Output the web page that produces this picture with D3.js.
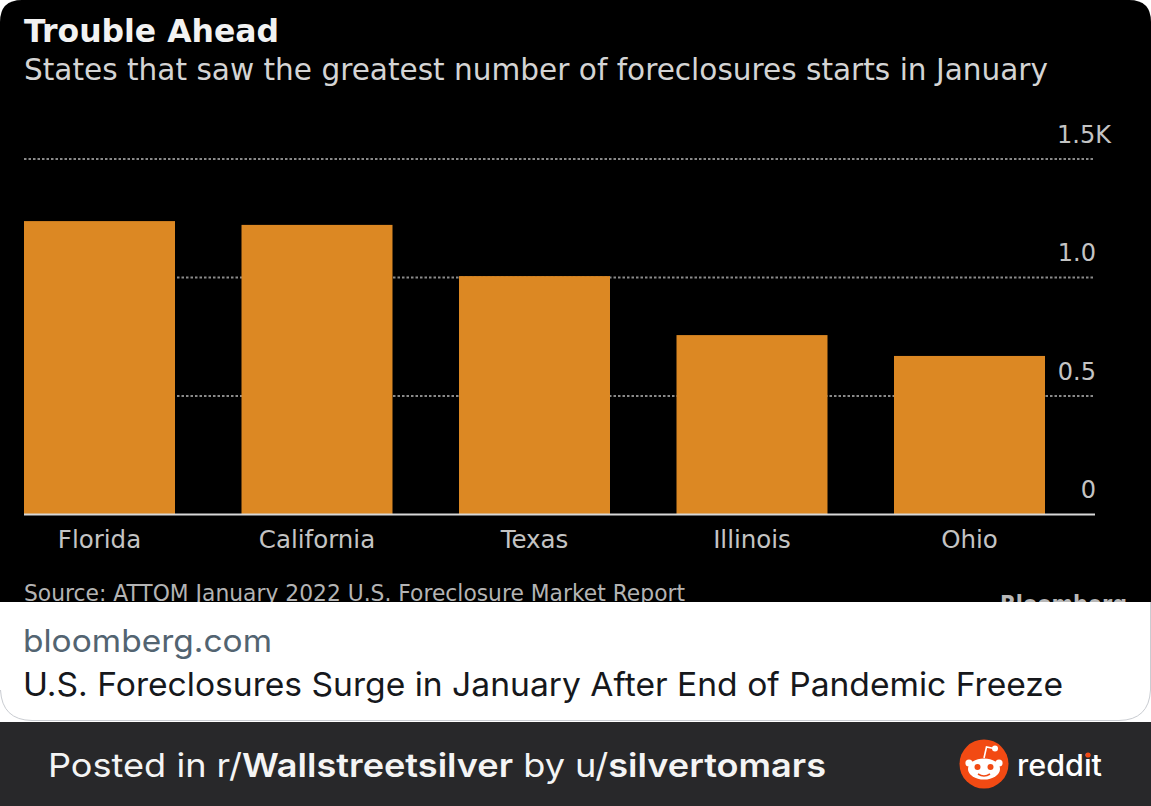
<!DOCTYPE html>
<html><head><meta charset="utf-8">
<script src="https://cdn.jsdelivr.net/npm/d3@7"></script>
<style>html,body{margin:0;padding:0;background:#fff;overflow:hidden}svg{display:block}</style>
</head><body><svg id="c" width="1151" height="806"></svg>
<script>
const states = ["Florida","California","Texas","Illinois","Ohio"];
const foreclosureStarts = [1238,1222,1006,757,669];
const yTicks = [0,500,1000,1500];
const yTickLabels = ["0","0.5","1.0","1.5K"];
const titleText = "Trouble Ahead";
const subtitleText = "States that saw the greatest number of foreclosures starts in January";
const sourceText = "Source: ATTOM January 2022 U.S. Foreclosure Market Report";
const linkDomain = "bloomberg.com";
const linkTitle = "U.S. Foreclosures Surge in January After End of Pandemic Freeze";

const svg = d3.select("#c");
const CH = "'DejaVu Sans', sans-serif";
const UI = "Inter, Roboto, sans-serif";

svg.append("rect").attr("width",1151).attr("height",806).attr("fill","#fff");
const defs = svg.append("defs");
defs.append("clipPath").attr("id","chartClip").append("path")
  .attr("d","M0 602V22Q0 0 22 0H1129Q1151 0 1151 22V602Z");
svg.append("rect").attr("y",0).attr("width",1151).attr("height",602).attr("fill","#000")
  .attr("clip-path","url(#chartClip)");
svg.append("path").attr("d","M0.5 690Q2 720 32 720.5H1119Q1149 720 1150.5 690V602")
  .attr("fill","none").attr("stroke","#c9ccd1").attr("stroke-width",1);
svg.append("rect").attr("y",722).attr("width",1151).attr("height",84).attr("fill","#28282a");

const plot = svg.append("g").attr("clip-path","url(#chartClip)");
const x = d3.scaleBand().domain(states).range([24,1045]).paddingInner(66.5/217.5).paddingOuter(0);
const y = d3.scaleLinear().domain([0,1500]).range([514.5,159]);

plot.append("g").selectAll("line").data(yTicks.filter(d=>d>0)).join("line")
  .attr("x1",24).attr("x2",1095).attr("y1",d=>y(d)).attr("y2",d=>y(d))
  .attr("stroke","#8a8a8a").attr("stroke-width",2).attr("stroke-dasharray","2.5 2");
plot.append("g").selectAll("rect").data(states).join("rect")
  .attr("x",d=>x(d)).attr("width",x.bandwidth())
  .attr("y",(d,i)=>y(foreclosureStarts[i]))
  .attr("height",(d,i)=>y(0)-y(foreclosureStarts[i]))
  .attr("fill","#dc8823");
plot.append("line").attr("x1",24).attr("x2",1095).attr("y1",y(0)).attr("y2",y(0))
  .attr("stroke","#d8d8d8").attr("stroke-width",2);
plot.append("g").selectAll("text").data(yTicks).join("text")
  .attr("x",(d,i)=>i===3?1111:1096).attr("y",d=>y(d)-16.5).attr("text-anchor","end")
  .attr("fill","#c4c4c4").attr("font-family",CH).attr("font-size",24)
  .attr("transform",null)
  .text((d,i)=>yTickLabels[i]);
plot.append("g").selectAll("text").data(states).join("text")
  .attr("x",d=>x(d)+x.bandwidth()/2).attr("y",548).attr("text-anchor","middle")
  .attr("fill","#c4c4c4").attr("font-family",CH).attr("font-size",24.5)
  .text(d=>d);
plot.append("text").attr("x",24).attr("y",42).attr("fill","#f2f2f2")
  .attr("font-family",CH).attr("font-weight","bold").attr("font-size",32)
  .attr("textLength",255).attr("lengthAdjust","spacingAndGlyphs").text(titleText);
plot.append("text").attr("x",24).attr("y",80).attr("fill","#d4d4d4")
  .attr("font-family",CH).attr("font-size",30.5)
  .attr("textLength",1024).attr("lengthAdjust","spacingAndGlyphs").text(subtitleText);
plot.append("text").attr("x",24).attr("y",601).attr("fill","#b4b4b4")
  .attr("font-family",CH).attr("font-size",23)
  .attr("textLength",661).attr("lengthAdjust","spacingAndGlyphs").text(sourceText);
plot.append("text").attr("x",1000).attr("y",613).attr("fill","#b8b8b8")
  .attr("font-family",CH).attr("font-weight","bold").attr("font-size",24)
  .attr("textLength",127).attr("lengthAdjust","spacingAndGlyphs").text("Bloomberg");

svg.append("text").attr("x",23).attr("y",652).attr("fill","#536471")
  .attr("font-family",UI).attr("font-size",31).attr("textLength",249).attr("lengthAdjust","spacingAndGlyphs").text(linkDomain);
svg.append("text").attr("x",23).attr("y",696).attr("fill","#16181c")
  .attr("font-family",UI).attr("font-size",33).attr("textLength",1040).attr("lengthAdjust","spacingAndGlyphs").text(linkTitle);

const foot = svg.append("text").attr("x",48).attr("y",777).attr("fill","#f4f4f4")
  .attr("font-family",UI).attr("font-size",33).attr("textLength",778).attr("lengthAdjust","spacingAndGlyphs");
foot.append("tspan").text("Posted in r/");
foot.append("tspan").attr("font-weight",600).text("Wallstreetsilver");
foot.append("tspan").text(" by u/");
foot.append("tspan").attr("font-weight",600).text("silvertomars");

const r = svg.append("g").attr("transform","translate(984,764)");
r.append("circle").attr("r",24.5).attr("fill","#f24a13");
r.append("ellipse").attr("cy",5).attr("rx",16).attr("ry",10.5).attr("fill","#fff");
r.append("circle").attr("cx",-15).attr("cy",-1).attr("r",3.6).attr("fill","#fff");
r.append("circle").attr("cx",15).attr("cy",-1).attr("r",3.6).attr("fill","#fff");
r.append("circle").attr("cx",-6.5).attr("cy",3).attr("r",3).attr("fill","#f24a13");
r.append("circle").attr("cx",6.5).attr("cy",3).attr("r",3).attr("fill","#f24a13");
r.append("path").attr("d","M-6 10Q0 14 6 10").attr("fill","none").attr("stroke","#f24a13").attr("stroke-width",1.6);
r.append("path").attr("d","M0 -6L2.5 -17L10 -15.5").attr("fill","none").attr("stroke","#fff").attr("stroke-width",1.6);
r.append("circle").attr("cx",11).attr("cy",-15.5).attr("r",3).attr("fill","#fff");
svg.append("text").attr("x",1017).attr("y",776).attr("fill","#fff")
  .attr("font-family",UI).attr("font-weight",500).attr("font-size",30)
  .attr("textLength",85).attr("lengthAdjust","spacingAndGlyphs").text("reddit");
svg.append("circle").attr("cx",1088).attr("cy",755).attr("r",2.6).attr("fill","#f24a13");
</script></body></html>
